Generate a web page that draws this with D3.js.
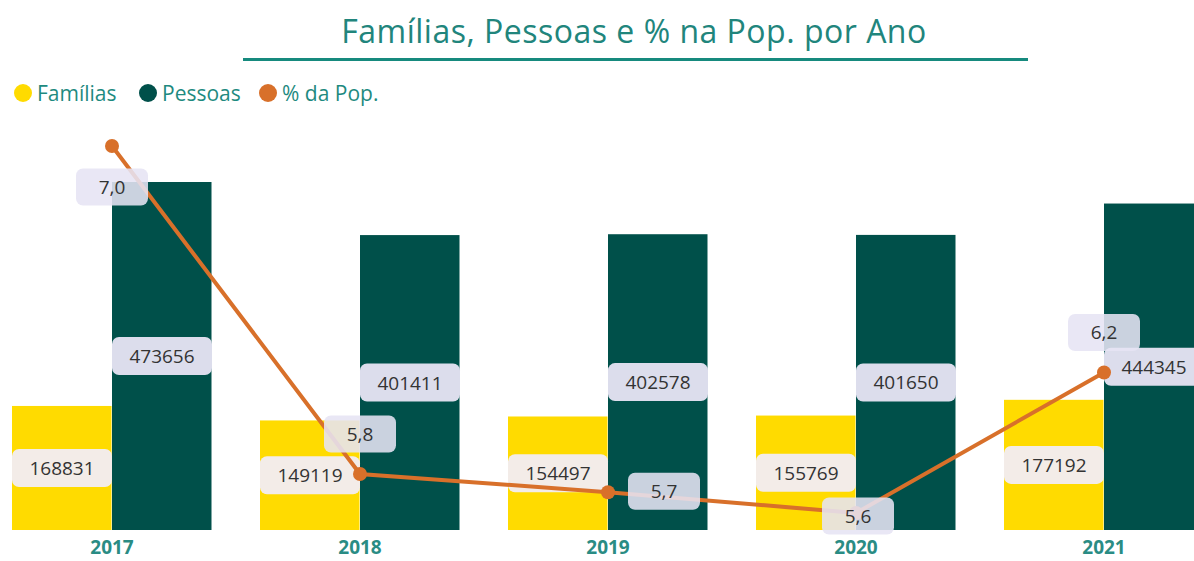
<!DOCTYPE html>
<html>
<head>
<meta charset="utf-8">
<script src="https://cdn.jsdelivr.net/npm/d3@7"></script>
<style>
  body { margin: 0; background: #fff; overflow: hidden; }
  svg { display: block; font-family: "Open Sans", "Noto Sans", sans-serif; }
</style>
</head>
<body>
<div id="chart"></div>
<script>
// Famílias, Pessoas e % na Pop. por Ano

const years = ['2017', '2018', '2019', '2020', '2021'];
const familias = [168831, 149119, 154497, 155769, 177192];
const pessoas = [473656, 401411, 402578, 401650, 444345];
const pctPop = [7.04, 5.78, 5.71, 5.63, 6.17];
// where the % label sits relative to its point
const pctLabelPlace = ['below', 'above', 'right', 'center', 'above'];

const width = 1194;
const height = 561;

const colors = {
  familias: '#FFDB00',
  pessoas: '#00504A',
  pct: '#D8702A',
  teal: '#1E8A80'
};

const svg = d3.select('#chart')
  .append('svg')
  .attr('width', width)
  .attr('height', height);

// title + underline
svg.append('text')
  .attr('x', 634)
  .attr('y', 43)
  .attr('text-anchor', 'middle')
  .attr('fill', '#21857C')
  .attr('font-size', 32)
  .attr('letter-spacing', 0.5)
  .text('Famílias, Pessoas e % na Pop. por Ano');

svg.append('line')
  .attr('x1', 243).attr('x2', 1028)
  .attr('y1', 59.5).attr('y2', 59.5)
  .attr('stroke', '#168A7E')
  .attr('stroke-width', 3);

// legend
const legendItems = [
  { name: 'Famílias', color: colors.familias, x: 23 },
  { name: 'Pessoas', color: colors.pessoas, x: 148 },
  { name: '% da Pop.', color: colors.pct, x: 268 }
];
const legend = svg.selectAll('.legend')
  .data(legendItems)
  .join('g')
  .attr('class', 'legend')
  .attr('transform', d => `translate(${d.x},93)`);
legend.append('circle')
  .attr('r', 9)
  .attr('fill', d => d.color);
legend.append('text')
  .attr('x', 14)
  .attr('y', 7.5)
  .attr('font-size', 21)
  .attr('fill', colors.teal)
  .text(d => d.name);

// scales
const x = d3.scaleBand()
  .domain(years)
  .range([12, 1204])
  .paddingInner(48 / 248)
  .paddingOuter(0);

const xSub = d3.scaleBand()
  .domain(['familias', 'pessoas'])
  .range([0, x.bandwidth()]);

const y = d3.scaleLinear()
  .domain([0, d3.max(pessoas)])
  .range([530, 182]);

const yPct = d3.scaleLinear()
  .domain(d3.extent(pctPop))
  .range([513, 146]);

const rows = years.map((yr, i) => ({
  year: yr, familias: familias[i], pessoas: pessoas[i], pct: pctPop[i], place: pctLabelPlace[i]
}));

// bars
const groups = svg.selectAll('.year')
  .data(rows)
  .join('g')
  .attr('class', 'year')
  .attr('transform', d => `translate(${x(d.year)},0)`);

['familias', 'pessoas'].forEach(key => {
  groups.append('rect')
    .attr('x', xSub(key))
    .attr('y', d => y(d[key]))
    .attr('width', xSub.bandwidth() - 0.5)
    .attr('height', d => y(0) - y(d[key]))
    .attr('fill', colors[key]);
});

// x axis labels
const xAxis = svg.append('g')
  .attr('transform', 'translate(0,530)')
  .call(d3.axisBottom(x).tickSize(0).tickPadding(11));
xAxis.select('.domain').remove();
xAxis.selectAll('text')
  .attr('font-family', '"Open Sans", "Noto Sans", sans-serif')
  .attr('font-size', 19)
  .attr('font-weight', 'bold')
  .attr('fill', '#2A8C84');

// bar value labels
function barLabel(sel, key, bg) {
  const g = sel.append('g')
    .attr('transform', d => `translate(${xSub(key) + xSub.bandwidth() / 2},${(y(d[key]) + y(0)) / 2})`);
  g.append('rect')
    .attr('x', -50).attr('y', -19)
    .attr('width', 100).attr('height', 38)
    .attr('rx', 7)
    .attr('fill', bg);
  g.append('text')
    .attr('text-anchor', 'middle')
    .attr('y', 7)
    .attr('font-size', 19)
    .attr('fill', '#333')
    .text(d => d[key]);
}
barLabel(groups, 'familias', '#F3ECE8');
barLabel(groups, 'pessoas', '#DCDDEC');

// % line
const cx = d => x(d.year) + x.bandwidth() / 2;
const line = d3.line()
  .x(cx)
  .y(d => yPct(d.pct));

svg.append('path')
  .datum(rows)
  .attr('d', line)
  .attr('fill', 'none')
  .attr('stroke', colors.pct)
  .attr('stroke-width', 4);

svg.selectAll('.pt')
  .data(rows)
  .join('circle')
  .attr('class', 'pt')
  .attr('cx', cx)
  .attr('cy', d => yPct(d.pct))
  .attr('r', 7)
  .attr('fill', colors.pct);

// % labels
const fmt = v => d3.format('.1f')(v).replace('.', ',');
const offsets = {
  below: [0, 41],
  above: [0, -40],
  right: [56, -1],
  center: [2, 3]
};
const pctLabels = svg.selectAll('.pct-label')
  .data(rows)
  .join('g')
  .attr('class', 'pct-label')
  .attr('transform', d => {
    const o = offsets[d.place];
    return `translate(${cx(d) + o[0]},${yPct(d.pct) + o[1]})`;
  });
pctLabels.append('rect')
  .attr('x', -36).attr('y', -18.5)
  .attr('width', 72).attr('height', 37)
  .attr('rx', 7)
  .attr('fill', '#E6E4F4')
  .attr('opacity', 0.88);
pctLabels.append('text')
  .attr('text-anchor', 'middle')
  .attr('y', 7)
  .attr('font-size', 19)
  .attr('fill', '#333')
  .text(d => fmt(d.pct));
</script>
</body>
</html>
